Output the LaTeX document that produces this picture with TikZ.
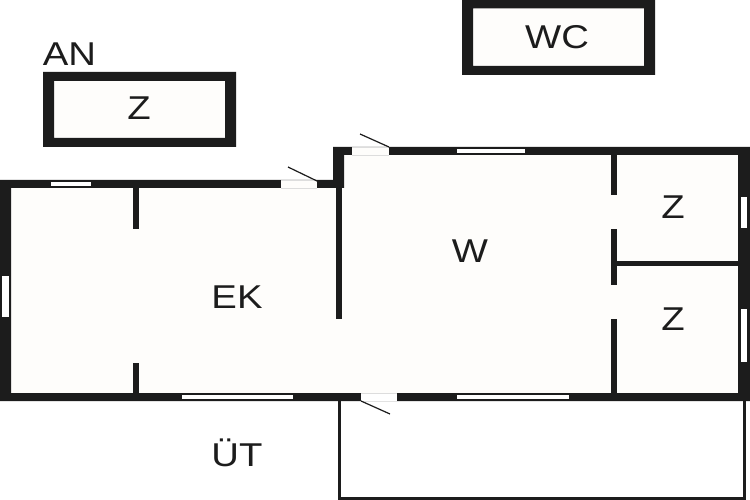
\documentclass[tikz,border=0pt]{standalone}
\usepackage{fontspec}
\setmainfont{Liberation Sans}
\definecolor{wallc}{HTML}{1C1C1C}
\definecolor{floorc}{HTML}{FEFDFB}
\definecolor{edgec}{HTML}{DDDDDD}
\tikzset{x=1pt,y=-1pt,
  wall/.style={fill=wallc,draw=none},
  pane/.style={fill=white,draw=none},
  swing/.style={draw=wallc,line width=1.2pt},
  thinline/.style={draw=wallc,line width=3pt},
  dooredge/.style={draw=edgec,line width=0.8pt},
  lbl/.style={text=wallc,font=\fontsize{33}{33}\selectfont,inner sep=0pt,anchor=center,xscale=1.16}}
\begin{document}
\begin{tikzpicture}
\useasboundingbox (0,0) rectangle (750,500);
\fill[white] (0,0) rectangle (750,500);
% floor
\fill[floorc] (11,188) rectangle (338,393);
\fill[floorc] (338,155) rectangle (738,393);
% outer walls
\fill[wall,even odd rule] (0,180) -- (333,180) -- (333,147) -- (750,147) -- (750,401) -- (0,401) -- cycle
  (11,188) -- (11,393) -- (738,393) -- (738,155) -- (344,155) -- (344,188) -- (11,188) -- cycle;
% partitions
\fill[wall] (133,188) rectangle (139,229);
\fill[wall] (133,363) rectangle (139,393);
\fill[wall] (336,188) rectangle (342,319);
\fill[wall] (611,155) rectangle (617,195);
\fill[wall] (611,229) rectangle (617,285);
\fill[wall] (611,319) rectangle (617,393);
\fill[wall] (617,261) rectangle (738,266);
% windows
\fill[pane] (51,182) rectangle (91,186);
\fill[pane] (2,276) rectangle (9,317);
\fill[pane] (457,149) rectangle (525,153);
\fill[pane] (741,197) rectangle (747,228);
\fill[pane] (741,309) rectangle (747,362);
\fill[pane] (182,395) rectangle (293,399);
\fill[pane] (457,395) rectangle (569,399);
% doors
\fill[floorc] (281,180) rectangle (317,189);
\fill[floorc] (352,147) rectangle (389,156);
\fill[white] (361,393) rectangle (397,401);
\draw[dooredge] (281,180.4) -- (317,180.4) (281,188.6) -- (317,188.6);
\draw[dooredge] (352,147.4) -- (389,147.4) (352,155.6) -- (389,155.6);
\draw[dooredge] (361,393.4) -- (397,393.4);
\coordinate (d1a) at (317,181); \coordinate (d1b) at (288,167);
\coordinate (d2a) at (389,147); \coordinate (d2b) at (360,134);
\coordinate (d3a) at (361,401); \coordinate (d3b) at (390,414);
\draw[swing] (d1a) -- (d1b);
\draw[swing] (d2a) -- (d2b);
\draw[swing] (d3a) -- (d3b);
% terrace
\coordinate (t1) at (339,401); \coordinate (t2) at (339,498); \coordinate (t3) at (744.5,498); \coordinate (t4) at (744.5,401);
\draw[thinline] (t1) -- (t2) -- (t3) -- (t4);
% outbuildings
\fill[floorc] (54,81) rectangle (225,138);
\fill[wall,even odd rule] (43,72) rectangle (236,147) (54,81) rectangle (225,138);
\fill[floorc] (473,8.5) rectangle (644,66);
\fill[wall,even odd rule] (462,0) rectangle (655,75) (473,8.5) rectangle (644,66);
% labels
\node[lbl] (an) at (69.5,54.5) {AN};
\node[lbl] (z1) at (139,108) {Z};
\node[lbl] (wc) at (557,37.5) {WC};
\node[lbl] (w) at (470,251) {W};
\node[lbl] (ek) at (237,297) {EK};
\node[lbl] (z2) at (673,207) {Z};
\node[lbl] (z3) at (673,319) {Z};
\node[lbl] (ut) at (237,452.5) {ÜT};
\end{tikzpicture}
\end{document}
